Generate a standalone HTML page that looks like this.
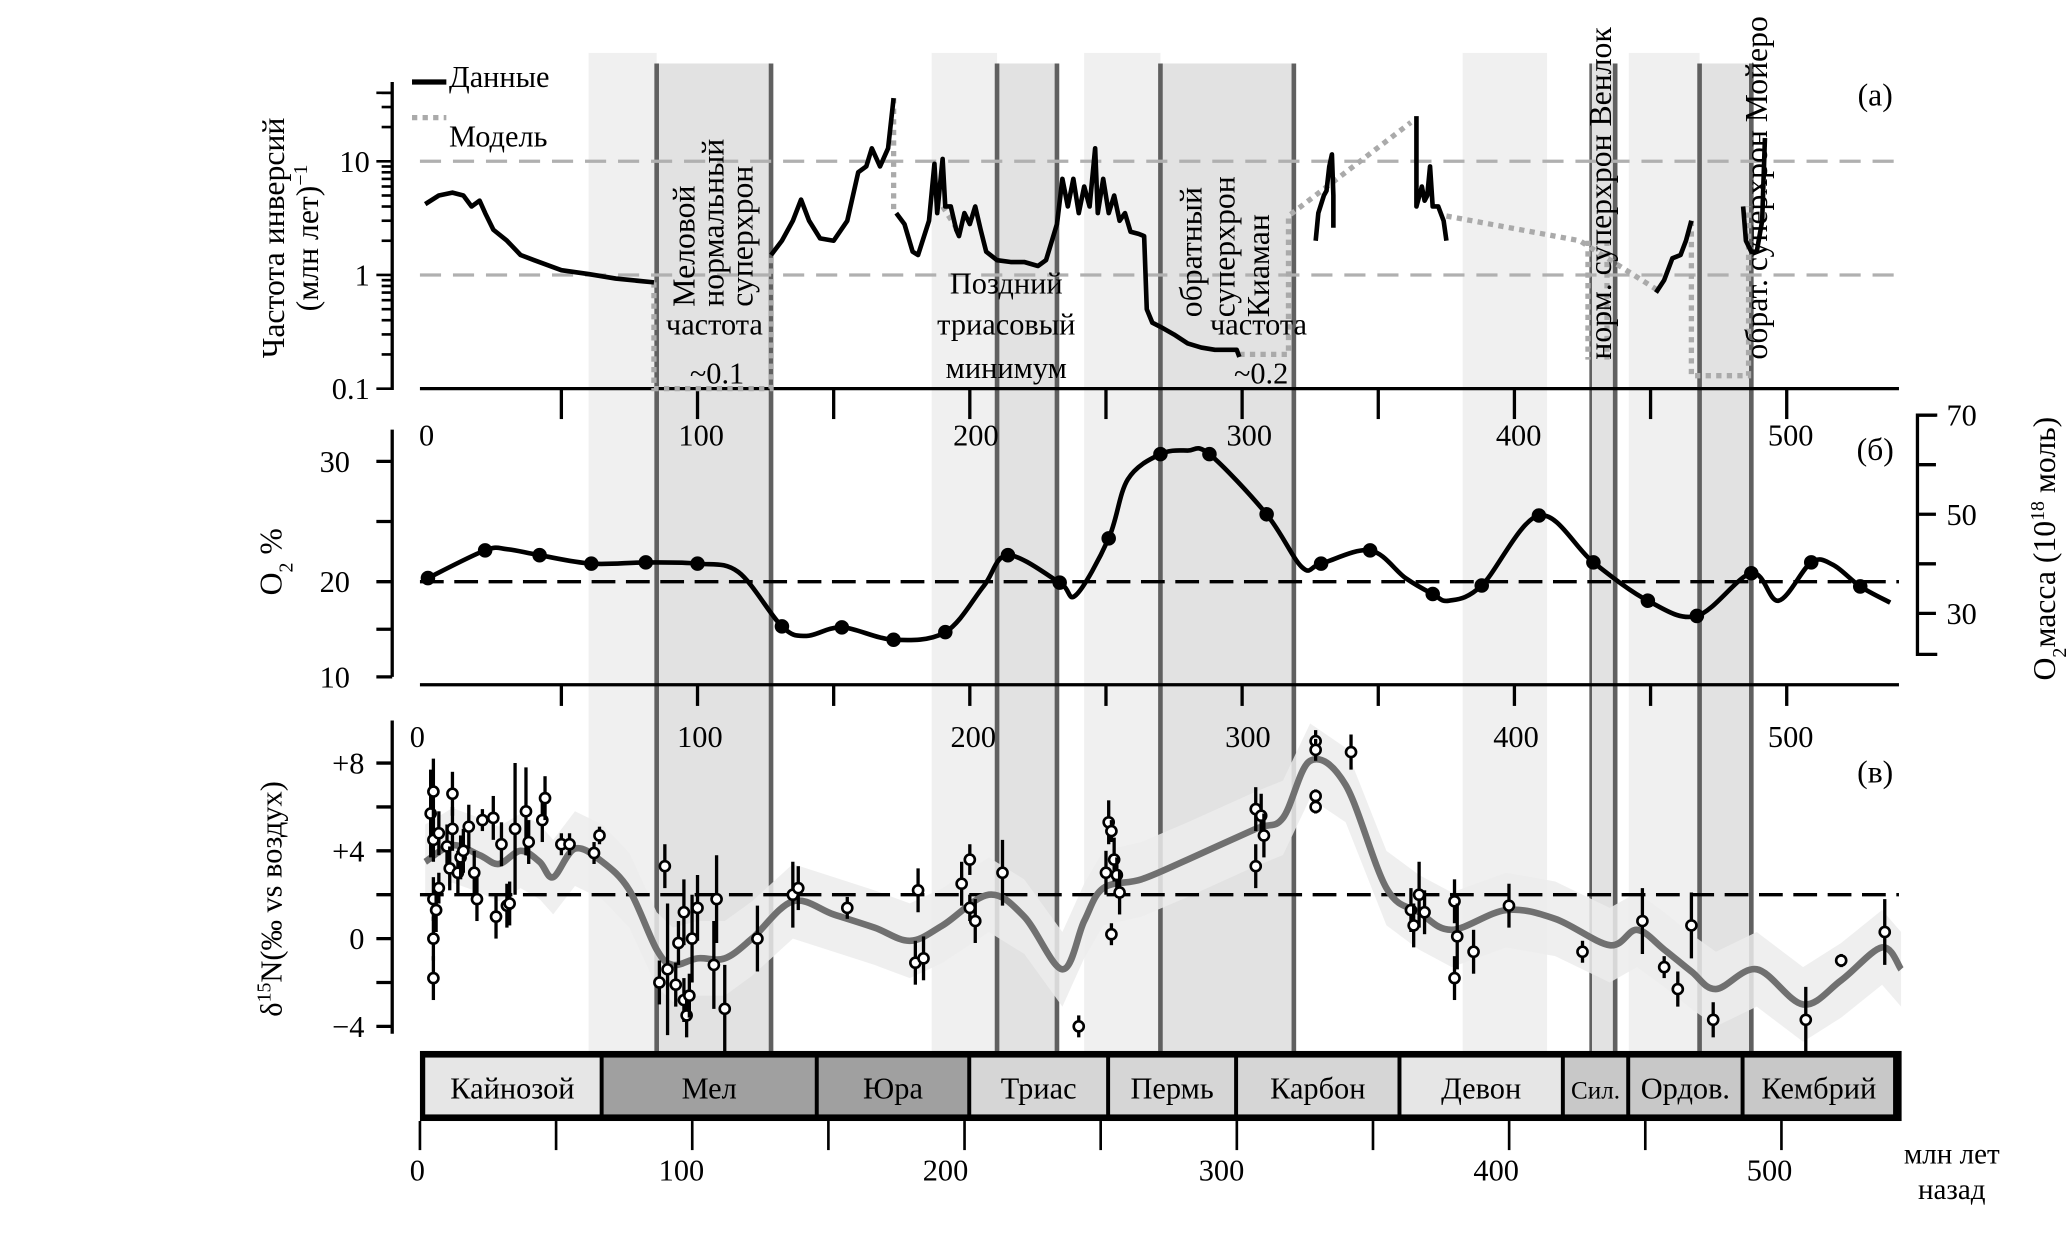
<!DOCTYPE html>
<html><head><meta charset="utf-8"><style>
html,body{margin:0;padding:0;background:#fff}
svg{display:block;font-family:"Liberation Serif","Noto Serif CJK SC",serif}
</style></head><body>
<svg id="c" width="2068" height="1240" viewBox="0 0 1566 938" preserveAspectRatio="none" xmlns="http://www.w3.org/2000/svg">
<g id="bands"></g><g id="pa"></g><g id="pb"></g><g id="pc"></g><g id="ts"></g><g id="txt"></g>
</svg>
<script>
// ---- data ----
const lightBands=[[60,85],[186,210],[242,270],[381,412],[442,468]];
const darkBands=[[85,127],[210,232],[270,319],[428,437],[468,487]];
const bandLines=[85,127,210,232,270,319,428,437,468,487];
// panel a: reversal frequency segments (age, value)
const revSeg1=[[0,4.2],[5,5],[10,5.3],[14,5],[17,4],[20,4.5],[22,3.5],[25,2.5],[30,2],[35,1.5],[40,1.35],[50,1.1],[60,1.02],[70,0.93],[80,0.88],[84,0.86]];
const revSeg2=[[127,1.5],[131,2],[135,3],[138,4.6],[141,3],[145,2.1],[150,2],[155,3],[159,8],[162,9],[164,13],[167,9],[170,13],[172,36]];
const revSeg3=[[173,3.5],[176,2.8],[179,1.6],[181,1.5],[185,3],[187,9.5],[188,3.5],[190,10.5],[191,4],[193,4],[195,2.5],[196,2.2],[198,3.5],[200,2.8],[202,4],[204,2.5],[206,1.6],[210,1.35],[215,1.3],[220,1.3],[225,1.2],[228,1.35],[232,2.8],[234,7],[236,4],[238,7],[240,3.5],[242,6],[244,4],[246,13],[247,3.5],[249,7],[251,3.5],[253,5],[255,3],[257,3.5],[259,2.4],[262,2.3],[264,2.2],[265,0.5],[267,0.38],[270,0.35],[275,0.3],[280,0.25],[285,0.23],[290,0.22],[298,0.22],[299,0.19]];
const revSeg4=[[327,2.0],[328,3.5],[330,5],[331,5.5],[332,9],[333,11.5],[333.5,5],[333.5,2.6]];
const revSeg5=[[364,25],[364,4],[366,6],[367,4.5],[368,5],[369,9],[370,4],[372,4],[374,3],[375,2]];
const revSeg6=[[452,0.7],[455,0.9],[458,1.4],[461,1.5],[463,2],[465,3]];
const revSeg7=[[484,4],[485,2],[487,1.6],[489,1.6],[491,3],[492,16]];
const modelSegs=[[[84,0.86],[84,0.1],[127,0.1],[127,1.5]],[[172,36],[172,3.5]],[[190,4],[195,2.6]],[[299,0.2],[317,0.2],[317,3.3],[362,22]],[[375,3.3],[424,2.0],[452,0.75]],[[465,3],[465,0.13],[486,0.13],[486,4]],[[427,2.0],[427,0.18]],[[434,2.0],[434,0.18]]];
// panel b: O2 %
const o2Age=[1,22,30,42,61,81,100,115,131,140,153,172,191,205,214,233,239,251,258,270,280,288,309,322,329,347,360,370,376,388,409,429,449,467,487,497,509,517,527,538];
const o2Val=[20.3,22.6,22.7,22.2,21.5,21.6,21.5,20.8,15.3,14.3,15.2,13.9,14.7,19.5,22.2,19.9,18.6,23.6,28.5,30.6,30.9,30.6,25.6,21.2,21.5,22.6,20.3,18.7,18,19.6,25.5,21.6,18,16.4,20.7,18,21.6,21.4,19.5,17.8];
const o2Marker=[1,1,0,1,1,1,1,0,1,0,1,1,1,0,1,1,0,1,0,1,0,1,1,0,1,1,0,1,0,1,1,1,1,1,1,0,1,0,1,0];
// panel c: d15N trend
const nAge=[0,10,20,27,35,42,47,55,65,75,85,91,100,110,120,135,150,165,178,190,207,220,234,242,249,263,280,305,315,325,338,353,365,377,397,415,435,445,455,465,474,489,506,520,535,542];
const nVal=[3.5,4.25,3.8,3.4,4,3.5,2.8,4.1,3.5,2.2,-0.5,-1.2,-0.9,-0.9,0,1.7,1.1,0.5,-0.1,0.6,2,1,-1.4,0.8,2.3,2.7,3.6,5,5.5,8.1,7,2.3,1.2,0.4,1.3,0.9,-0.3,0.4,-0.5,-1.5,-2.3,-1.4,-3,-1.9,-0.4,-1.4];
const ptAge=[2,3,3,3,3,3,4,5,5,8,9,10,10,12,13,14,16,18,19,21,25,26,28,30,31,33,37,38,43,44,50,53,62,64,88,86,89,92,93,95,95,96,97,98,100,106,107,110,122,135,137,155,180,181,183,197,200,200,202,212,240,250,251,252,253,254,255,252,305,305,307,308,327,327,327,327,340,362,363,365,367,378,378,379,385,398,425,447,455,460,465,473,507,520,536];
const ptVal=[5.7,6.7,4.5,1.8,0,-1.8,1.3,2.3,4.8,4.2,3.2,5,6.6,3,3.7,4,5.1,3,1.8,5.4,5.5,1,4.3,1.5,1.6,5,5.8,4.4,5.4,6.4,4.3,4.3,3.9,4.7,3.3,-2,-1.4,-2.1,-0.2,1.2,-2.8,-3.5,-2.6,0,1.4,-1.2,1.8,-3.2,0,2,2.3,1.4,-1.1,2.2,-0.9,2.5,1.4,3.6,0.8,3,-4,3,5.3,4.9,3.6,2.9,2.1,0.2,5.9,3.3,5.6,4.7,9,8.6,6.5,6,8.5,1.3,0.6,2,1.2,1.7,-1.8,0.1,-0.6,1.5,-0.6,0.8,-1.3,-2.3,0.6,-3.7,-3.7,-1,0.3];
const ptErr=[2,1.5,1,1,1,1,1,0.7,1,1,1,1,1,1,1,1,1,1,1,0.5,1,1,1,1,1,3,2,1,1,1,0.5,0.5,0.5,0.4,1,1,3,1,1,1.5,1,1,1,2,1.5,2,2,2,1.5,1.5,1,0.5,1,1,1,1,0.6,0.7,1,1.5,0.5,1,1,0.5,1,0.8,1,0.5,1,1,1,1,0.5,0.5,0.3,0.3,0.8,1,1,1.5,1,1,1,1.5,1,1,0.5,1.5,0.5,0.8,1.5,0.8,1.5,0.3,1.5];
const periods=["Кайнозой","Мел","Юра","Триас","Пермь","Карбон","Девон","Сил.","Ордов.","Кембрий"];
const periodStart=[0,66,145,201,252,299,359,419,443,485];
const periodEnd=[66,145,201,252,299,359,419,443,485,541];
const periodFill=["#e6e6e6","#a0a0a0","#a0a0a0","#d6d6d6","#d6d6d6","#d6d6d6","#e6e6e6","#c8c8c8","#c8c8c8","#c8c8c8"];
const ticksA=["10","1","0.1"], ticksAval=[10,1,0.1];
const ticksB=[30,20,10], ticksR=[70,50,30];
const ticksC=[8,4,0,-4], ticksClab=["+8","+4","0","−4"];
const xLab=[0,100,200,300,400,500];

// ---- scales ----
const X=a=>322+a*2.062;
const YA=v=>208-86*Math.log10(v);
const YB=v=>v>=20?440-(v-20)*9.1:440-(v-20)*7.2;
const YR=m=>389-(m-50)*3.75;
const YC=v=>710-v*16.6;
const NS="http://www.w3.org/2000/svg";
function el(p,t,a,txt){const e=document.createElementNS(NS,t);for(const k in a)e.setAttribute(k,a[k]);if(txt!=null)e.textContent=txt;document.getElementById(p).appendChild(e);return e;}
function poly(pts){return pts.map((p,i)=>(i?"L":"M")+p[0].toFixed(1)+","+p[1].toFixed(1)).join("");}
function smooth(pts){let d="M"+pts[0][0]+","+pts[0][1];for(let i=0;i<pts.length-1;i++){const p0=pts[i-1]||pts[i],p1=pts[i],p2=pts[i+1],p3=pts[i+2]||p2;d+="C"+(p1[0]+(p2[0]-p0[0])/6)+","+(p1[1]+(p2[1]-p0[1])/6)+" "+(p2[0]-(p3[0]-p1[0])/6)+","+(p2[1]-(p3[1]-p1[1])/6)+" "+p2[0]+","+p2[1];}return d;}

// bands
lightBands.forEach(b=>{const r=el("bands","rect",{x:X(b[0]),y:40,width:X(b[1])-X(b[0]),height:755,fill:"#f0f0f0"});});
darkBands.forEach(b=>{const r=el("bands","rect",{x:X(b[0]),y:48,width:X(b[1])-X(b[0]),height:747,fill:"#e2e2e2"});});
bandLines.forEach((a,i)=>{const l=el("bands","line",{x1:X(a),x2:X(a),y1:48,y2:795,stroke:"#606060","stroke-width":(i==6?2:3.5)});});

// ---- panel a ----
[10,1].forEach(v=>{const l=el("pa","line",{x1:318,x2:1438,y1:YA(v),y2:YA(v),stroke:"#b0b0b0","stroke-width":2.5,"stroke-dasharray":"16 9"});});
el("pa","line",{x1:297,x2:297,y1:62,y2:295,stroke:"#000","stroke-width":2.5});
for(let d=-1;d<=1;d++)for(let m=1;m<=9;m++){const v=m*Math.pow(10,d);if(v>40)break;const y=YA(v);el("pa","line",{x1:m==1?285:289,x2:297,y1:y,y2:y,stroke:"#000","stroke-width":2});}
el("pa","line",{x1:285,x2:297,y1:YA(40),y2:YA(40),stroke:"#000","stroke-width":2});
ticksA.forEach((t,i)=>{const e=el("pa","text",{x:280,y:YA(ticksAval[i])+8,"text-anchor":"end","font-size":23},t);});
el("pa","line",{x1:318,x2:1438,y1:294,y2:294,stroke:"#000","stroke-width":2.5});
for(let a=50;a<=500;a+=50)el("pa","line",{x1:X(a),x2:X(a),y1:294,y2:317,stroke:"#000","stroke-width":2.5});
modelSegs.forEach(s=>{const p=el("pa","path",{d:poly(s.map(q=>[X(q[0]),YA(q[1])])),fill:"none",stroke:"#aaa","stroke-width":4,"stroke-dasharray":"4 4"});});
[revSeg1,revSeg2,revSeg3,revSeg4,revSeg5,revSeg6,revSeg7].forEach(s=>{const p=el("pa","path",{d:poly(s.map(q=>[X(q[0]),YA(q[1])])),fill:"none",stroke:"#000","stroke-width":3.5,"stroke-linejoin":"round"});});
el("pa","line",{x1:312,x2:338,y1:62,y2:62,stroke:"#000","stroke-width":4});
el("pa","line",{x1:312,x2:338,y1:89,y2:89,stroke:"#aaa","stroke-width":4,"stroke-dasharray":"4 4"});
el("pa","text",{x:340,y:66,"font-size":23,},"Данные");
el("pa","text",{x:340,y:111,"font-size":23,},"Модель");

// ---- panel b ----
el("pb","line",{x1:297,x2:297,y1:325,y2:512,stroke:"#000","stroke-width":2.5});
[30,25,20,15,10].forEach(v=>el("pb","line",{x1:285,x2:297,y1:YB(v),y2:YB(v),stroke:"#000","stroke-width":2.5}));
ticksB.forEach(v=>{const e=el("pb","text",{x:265,y:YB(v)+8,"text-anchor":"end","font-size":23},String(v));});
el("pb","path",{d:"M1467,314H1452V495H1467",fill:"none",stroke:"#000","stroke-width":2.5});
[70,60,50,40,30].forEach(m=>el("pb","line",{x1:1452,x2:1466,y1:YR(m),y2:YR(m),stroke:"#000","stroke-width":2.5}));
ticksR.forEach(m=>{const e=el("pb","text",{x:1474,y:YR(m)+8,"font-size":23},String(m));});
el("pb","line",{x1:318,x2:1438,y1:440,y2:440,stroke:"#000","stroke-width":2.5,"stroke-dasharray":"18 8"});
el("pb","line",{x1:318,x2:1438,y1:518,y2:518,stroke:"#000","stroke-width":2.5});
for(let a=50;a<=500;a+=50)el("pb","line",{x1:X(a),x2:X(a),y1:518,y2:534,stroke:"#000","stroke-width":2.5});
{const pts=o2Age.map((a,i)=>[X(a),YB(o2Val[i])]);const p=el("pb","path",{d:smooth(pts),fill:"none",stroke:"#000","stroke-width":3.5});
pts.forEach((q,i)=>{if(o2Marker[i]){const c=el("pb","circle",{cx:q[0],cy:q[1],r:5.5,fill:"#000"});}});}

// ---- panel c ----
el("pc","line",{x1:297,x2:297,y1:545,y2:782,stroke:"#000","stroke-width":2.5});
for(let v=-4;v<=10;v+=2){if(YC(v)<545)continue;el("pc","line",{x1:285,x2:297,y1:YC(v),y2:YC(v),stroke:"#000","stroke-width":2.5});}
ticksC.forEach((v,i)=>{const e=el("pc","text",{x:276,y:YC(v)+8,"text-anchor":"end","font-size":23},ticksClab[i]);});
{const up=nAge.map((a,i)=>[X(a),YC(nVal[i]+1.7)]),dn=nAge.map((a,i)=>[X(a),YC(nVal[i]-1.7)]).reverse();
const b=el("pc","path",{d:poly(up.concat(dn))+"Z",fill:"#ececec",opacity:0.85});}
el("pc","line",{x1:318,x2:1438,y1:YC(2),y2:YC(2),stroke:"#000","stroke-width":2.5,"stroke-dasharray":"18 8"});
{const p=el("pc","path",{d:smooth(nAge.map((a,i)=>[X(a),YC(nVal[i])])),fill:"none",stroke:"#707070","stroke-width":5});}
ptAge.forEach((a,i)=>{const x=X(a),y=YC(ptVal[i]);const l=el("pc","line",{x1:x,x2:x,y1:YC(ptVal[i]+ptErr[i]),y2:YC(ptVal[i]-ptErr[i]),stroke:"#000","stroke-width":2.5});
const c=el("pc","circle",{cx:x,cy:y,r:3.8,fill:"#fff",stroke:"#000","stroke-width":2});});

// ---- timescale ----
el("ts","rect",{x:318,y:795,width:1122,height:53,fill:"#000"});
periods.forEach((p,i)=>{const x0=X(periodStart[i])-4+(i==0?4:3),x1=X(periodEnd[i])-4;const r=el("ts","rect",{x:x0,y:800,width:Math.min(x1,1436)-x0,height:43,fill:periodFill[i]});
const t=el("ts","text",{x:(x0+Math.min(x1,1436))/2,y:831,"text-anchor":"middle","font-size":i==7?19:23},p);});
for(let a=0;a<=500;a+=50)el("ts","line",{x1:X(a)-4,x2:X(a)-4,y1:848,y2:870,stroke:"#000","stroke-width":2});

// ---- x labels ----
const xa=[323,531,739,946,1150,1356],xb=[316,530,737,945,1148,1356],xc=[316,516,716,925,1133,1340];
xLab.forEach((v,i)=>{
const a=el("txt","text",{x:xa[i],y:337,"text-anchor":"middle","font-size":23},String(v));
const b=el("txt","text",{x:xb[i],y:565,"text-anchor":"middle","font-size":23},String(v));
const c=el("txt","text",{x:xc[i],y:893,"text-anchor":"middle","font-size":23},String(v));});
</script>
<script>
const T=(x,y,s,rot,anchor,size,name)=>{const e=document.createElementNS("http://www.w3.org/2000/svg","text");e.setAttribute("x",x);e.setAttribute("y",y);e.setAttribute("font-size",size||22);if(anchor)e.setAttribute("text-anchor",anchor);if(rot)e.setAttribute("transform",`rotate(${rot} ${x} ${y})`);e.innerHTML=s;


document.getElementById("txt").appendChild(e);};
T(215,180,"Частота инверсий",-90,"middle",24,"y-title-a");
T(241,180,"(млн лет)<tspan baseline-shift='super' font-size='15'>−1</tspan>",-90,"middle",24,"y-title-a2");
T(213,425,"O<tspan baseline-shift='sub' font-size='15'>2</tspan> %",-90,"middle",24,"y-title-b");
T(213,680,"δ<tspan baseline-shift='super' font-size='15'>15</tspan>N(‰ vs воздух)",-90,"middle",23,"y-title-c");
T(1556,415,"O<tspan baseline-shift='sub' font-size='15'>2</tspan>масса (10<tspan baseline-shift='super' font-size='15'>18</tspan> моль)",-90,"middle",24,"y-title-right");
T(1420,80,"(а)",0,"middle",24,"panel-label-a");
T(1420,348,"(б)",0,"middle",24,"panel-label-b");
T(1420,592,"(в)",0,"middle",24,"panel-label-c");
T(526,232,"Меловой",-90,"start",24,"superchron-label");
T(548,232,"нормальный",-90,"start",24,"superchron-label");
T(570,232,"суперхрон",-90,"start",24,"superchron-label");
T(541,253,"частота",0,"middle",23,"freq-label");
T(543,290,"~0.1",0,"middle",23,"freq-label");
T(762,222,"Поздний",0,"middle",23,"min-label");
T(762,253,"триасовый",0,"middle",23,"min-label");
T(762,286,"минимум",0,"middle",23,"min-label");
T(910,240,"обратный",-90,"start",24,"superchron-label");
T(935,240,"суперхрон",-90,"start",24,"superchron-label");
T(961,240,"Киаман",-90,"start",24,"superchron-label");
T(953,253,"частота",0,"middle",23,"freq-label");
T(955,290,"~0.2",0,"middle",23,"freq-label");
T(1220,272,"норм. суперхрон Венлок",-90,"start",24,"superchron-label");
T(1338,272,"обрат. суперхрон Мойеро",-90,"start",24,"superchron-label");
T(1478,880,"млн лет",0,"middle",22,"x-axis-title");
T(1478,907,"назад",0,"middle",22,"x-axis-title");
</script>
</body></html>
